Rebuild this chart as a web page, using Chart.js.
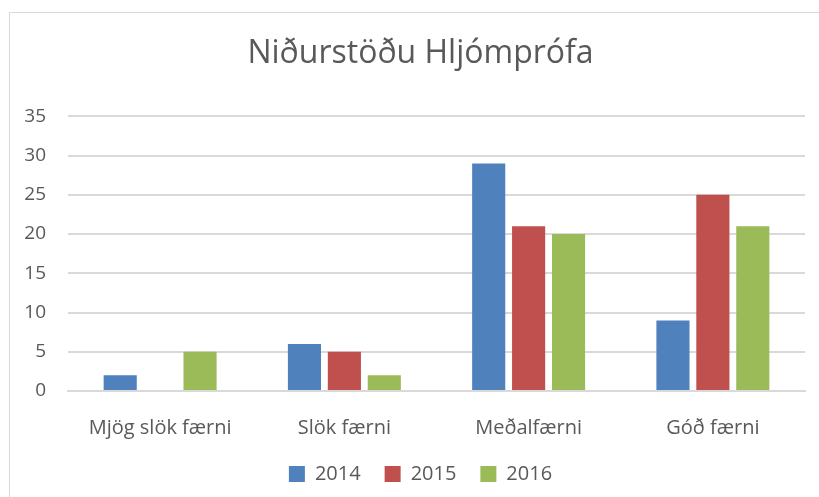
<!DOCTYPE html>
<html>
<head>
<meta charset="utf-8">
<script src="https://cdn.jsdelivr.net/npm/chart.js@4.4.0/dist/chart.umd.min.js"></script>
<style>
  html, body { margin: 0; padding: 0; background: #fff; }
  #frame {
    position: absolute; left: 9px; top: 12px; width: 830px; height: 510px;
    border: 1.5px solid #d9d9d9; box-sizing: border-box;
  }
  #wrap { position: absolute; left: 0; top: 0; width: 819px; height: 497px; }
</style>
</head>
<body>
<div id="frame"></div>
<div id="wrap"><canvas id="stage"></canvas></div>
<script>
// flokkar og gildi
const categories = ['Mjög slök færni', 'Slök færni', 'Meðalfærni', 'Góð færni'];
const years = ['2014', '2015', '2016'];
const values2014 = [2, 6, 29, 9];
const values2015 = [0, 5, 21, 25];
const values2016 = [5, 2, 20, 21];
const colors = ['#4F81BD', '#C0504D', '#9BBB59'];

const FONT = '"Open Sans", Lato, sans-serif';
const TEXT = '#595959';

// titill og skýringar eru miðjaðar á rammann, ekki á teiknisvæðið
const shiftBoxes = {
  id: 'shiftBoxes',
  afterLayout(chart) {
    const dx = 18;
    [chart.titleBlock, chart.legend].forEach(function(box) {
      if (box) { box.left += dx; box.right += dx; }
    });
  }
};

const ctx = document.getElementById('stage');
const chart = new Chart(ctx, {
  type: 'bar',
  data: {
    labels: categories,
    datasets: [
      { label: years[0], data: values2014, backgroundColor: colors[0] },
      { label: years[1], data: values2015, backgroundColor: colors[1] },
      { label: years[2], data: values2016, backgroundColor: colors[2] }
    ]
  },
  options: {
    responsive: true,
    maintainAspectRatio: false,
    animation: false,
    categoryPercentage: 0.65,
    barPercentage: 0.83,
    layout: { padding: { left: 0, right: 14, top: 0, bottom: 3 } },
    plugins: {
      title: {
        display: true,
        text: 'Niðurstöðu Hljómprófa',
        color: TEXT,
        font: { family: FONT, size: 32, weight: 'normal' },
        padding: { top: 35, bottom: 43 }
      },
      legend: {
        position: 'bottom',
        labels: {
          color: TEXT,
          font: { family: FONT, size: 20 },
          boxWidth: 16,
          boxHeight: 16,
          padding: 24
        }
      },
      tooltip: { enabled: false }
    },
    scales: {
      x: {
        grid: { display: false, drawTicks: false },
        border: { display: true, color: '#d9d9d9', width: 2 },
        ticks: { color: TEXT, font: { family: FONT, size: 20 }, padding: 25 },
        afterFit: function(scale) { scale.height -= 25; }
      },
      y: {
        min: 0,
        max: 35,
        ticks: { stepSize: 5, color: TEXT, font: { family: FONT, size: 19 }, padding: 22 },
        grid: { color: '#d9d9d9', lineWidth: 2, drawTicks: false },
        border: { display: false },
        afterFit: function(scale) { scale.width = 68; }
      }
    }
  },
  plugins: [shiftBoxes]
});
</script>
</body>
</html>
